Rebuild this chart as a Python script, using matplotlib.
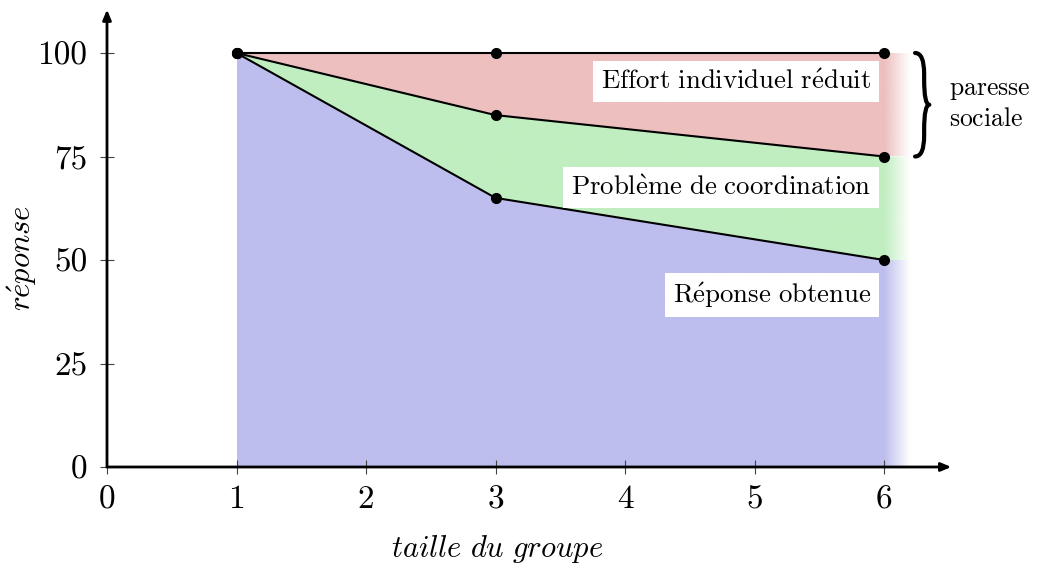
import numpy as np
import matplotlib
matplotlib.use("Agg")
import matplotlib.pyplot as plt
from matplotlib.patches import Polygon, PathPatch
from matplotlib.path import Path

# ---- data ----
group_size = [1, 3, 6]
effort_top = [100, 100, 100]
effort_reduced = [100, 85, 75]
response_obtained = [100, 65, 50]
x_ticks = [0, 1, 2, 3, 4, 5, 6]
y_ticks = [0, 25, 50, 75, 100]
region_labels = ["Effort individuel réduit", "Problème de coordination", "Réponse obtenue"]
label_y = [93, 67.5, 41.5]
brace_lines = ["paresse", "sociale"]
x_label = "taille du groupe"
y_label = "réponse"

col_red = (237/255, 191/255, 191/255)
col_green = (192/255, 238/255, 192/255)
col_blue = (189/255, 190/255, 237/255)

plt.rcParams['mathtext.fontset'] = 'cm'
plt.rcParams['axes.unicode_minus'] = False
FAM = ['cmr10', 'DejaVu Serif']


def tex(s, style='mathrm'):
    s = s.replace(' ', r'\ ').replace('é', r'\acute{e}').replace('è', r'\grave{e}')
    return r'$\%s{%s}$' % (style, s)


W, H = 1039, 563
fig = plt.figure(figsize=(W/100, H/100), dpi=100)
px_x0, px_x1 = 107, 107 + 6.5*129.5
px_y0, px_y1 = 467, 467 - 110*4.14
ax = fig.add_axes([px_x0/W, (H-px_y0)/H, (px_x1-px_x0)/W, (px_y0-px_y1)/H])
ax.set_xlim(0, 6.5)
ax.set_ylim(0, 110)
for s in ax.spines.values():
    s.set_visible(False)

fade_end = 6.2
xs_ext = group_size + [fade_end]


def region(lower, upper, color, z):
    lo = list(lower) + [lower[-1]]
    up = list(upper) + [upper[-1]]
    verts = list(zip(xs_ext, up)) + list(zip(xs_ext[::-1], lo[::-1]))
    poly = Polygon(verts, closed=True, facecolor='none', edgecolor='none')
    ax.add_patch(poly)
    nx = 400
    gx = np.linspace(group_size[0], fade_end, nx)
    alpha = np.clip((fade_end - gx) / (fade_end - group_size[-1]), 0, 1)
    img = np.zeros((2, nx, 4))
    img[..., 0] = color[0]; img[..., 1] = color[1]; img[..., 2] = color[2]
    img[..., 3] = alpha[None, :]
    im = ax.imshow(img, extent=[group_size[0], fade_end, min(lo), max(up)],
                   origin='lower', aspect='auto', interpolation='bilinear', zorder=z)
    im.set_clip_path(poly)


region([0]*len(group_size), response_obtained, col_blue, 1)
region(response_obtained, effort_reduced, col_green, 1)
region(effort_reduced, effort_top, col_red, 1)
ax.set_xlim(0, 6.5)
ax.set_ylim(0, 110)

for ys in (effort_top, effort_reduced, response_obtained):
    ax.plot(group_size, ys, color='black', lw=1.5, zorder=3,
            marker='o', ms=7, mfc='black', mec='black')

# axes arrows
ax.annotate('', xy=(6.52, 0), xytext=(0, 0),
            arrowprops=dict(arrowstyle='-|>,head_length=0.6,head_width=0.25', lw=2, color='black',
                            shrinkA=0, shrinkB=0), zorder=4, annotation_clip=False)
ax.annotate('', xy=(0, 110.5), xytext=(0, 0),
            arrowprops=dict(arrowstyle='-|>,head_length=0.6,head_width=0.25', lw=2, color='black',
                            shrinkA=0, shrinkB=0), zorder=4, annotation_clip=False)

ax.set_xticks(x_ticks)
ax.set_yticks(y_ticks)
ax.tick_params(direction='inout', length=10, width=0.8, color='#444444', labelsize=24)
ax.tick_params(axis='y', pad=9)
ax.tick_params(axis='x', pad=8)
for lab in ax.get_xticklabels() + ax.get_yticklabels():
    lab.set_family(FAM)

for txt, yy in zip(region_labels, label_y):
    ax.text(5.9, yy, tex(txt), ha='right', va='center', fontsize=19.3, zorder=5,
            bbox=dict(boxstyle='square,pad=0.28', fc='white', ec='none'))

# brace
bx = 6.24
y_top, y_bot = effort_top[-1], effort_reduced[-1]
ymid = (y_top + y_bot) / 2
w = 0.11
c = 0.07
verts = [(bx, y_top), (bx + c, y_top), (bx + c, y_top - 5), (bx + c, ymid + 6),
         (bx + c, ymid), (bx + w, ymid),
         (bx + c, ymid), (bx + c, ymid - 6),
         (bx + c, y_bot + 5), (bx + c, y_bot), (bx, y_bot)]
codes = [Path.MOVETO, Path.CURVE3, Path.CURVE3, Path.LINETO,
         Path.CURVE3, Path.CURVE3,
         Path.CURVE3, Path.CURVE3,
         Path.LINETO, Path.CURVE3, Path.CURVE3]
ax.add_patch(PathPatch(Path(verts, codes), fc='none', ec='black', lw=3, capstyle='round',
                       joinstyle='round', clip_on=False, zorder=5))
ax.text(6.5, ymid + 3.7, tex(brace_lines[0]), ha='left', va='center', fontsize=18.5)
ax.text(6.5, ymid - 3.5, tex(brace_lines[1]), ha='left', va='center', fontsize=18.5)

fig.text(497/W, 1 - 549/H, tex(x_label, 'mathit'), ha='center', va='center', fontsize=22)
fig.text(22/W, 1 - 258/H, tex(y_label, 'mathit'), ha='center', va='center', fontsize=22,
         rotation=90)

fig.savefig('out.png', dpi=100)
